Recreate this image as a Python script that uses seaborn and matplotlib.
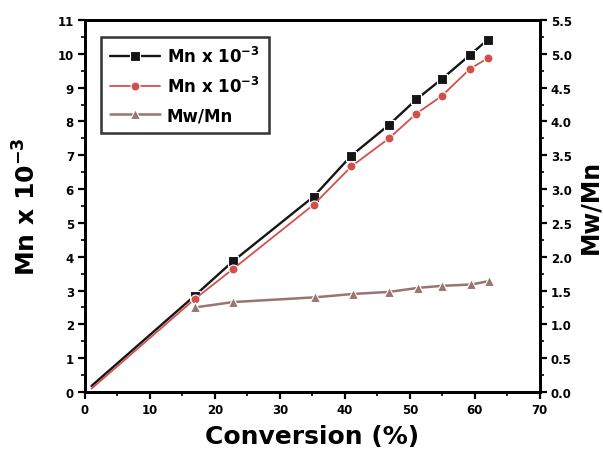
import matplotlib
matplotlib.use("Agg")
import matplotlib.pyplot as plt
import seaborn as sns
import pandas as pd
from matplotlib.ticker import MultipleLocator, FormatStrFormatter

sns.set_theme(style="white")
plt.rcParams['font.family'] = ['DejaVu Sans']
plt.rcParams['mathtext.fontset'] = 'dejavusans'
plt.rcParams['mathtext.default'] = 'bf'
plt.rcParams['axes.unicode_minus'] = False
plt.rcParams['text.color'] = 'black'
plt.rcParams['axes.labelcolor'] = 'black'
plt.rcParams['xtick.color'] = 'black'
plt.rcParams['ytick.color'] = 'black'

# Data
conv_mn = [1.0, 16.9, 22.8, 35.2, 41.0, 46.8, 51.0, 54.9, 59.3, 62.0]
mn_black = [0.18, 2.85, 3.87, 5.78, 6.99, 7.90, 8.65, 9.25, 9.97, 10.42]
mn_red = [0.10, 2.75, 3.64, 5.54, 6.67, 7.50, 8.23, 8.75, 9.56, 9.87]
conv_pdi = [16.9, 22.8, 35.4, 41.3, 46.8, 51.3, 55.0, 59.5, 62.2]
pdi = [1.25, 1.33, 1.40, 1.45, 1.48, 1.54, 1.57, 1.59, 1.64]

c_black = '#151515'
c_red = '#d2504c'
c_brown = '#9a7470'

fig = plt.figure(figsize=(6.03, 4.52), dpi=100)
ax = fig.add_axes([0.141, 0.1305, 0.754, 0.823])
ax2 = ax.twinx()

df1 = pd.DataFrame({'x': conv_mn, 'y': mn_black})
df2 = pd.DataFrame({'x': conv_mn, 'y': mn_red})
df3 = pd.DataFrame({'x': conv_pdi, 'y': pdi})

sns.lineplot(data=df1, x='x', y='y', ax=ax, color=c_black, marker='s', markersize=6.5,
             markeredgecolor='white', markeredgewidth=0.8, markerfacecolor=c_black,
             markevery=list(range(1, len(conv_mn))),
             linewidth=1.7, label='Mn x 10$^{-3}$', legend=False)
sns.lineplot(data=df2, x='x', y='y', ax=ax, color=c_red, marker='o', markersize=6.5,
             markeredgecolor='white', markeredgewidth=0.8, markerfacecolor=c_red,
             markevery=list(range(1, len(conv_mn))),
             linewidth=1.3, label='Mn x 10$^{-3}$', legend=False)
sns.lineplot(data=df3, x='x', y='y', ax=ax2, color=c_brown, marker='^', markersize=7.5,
             markeredgecolor='white', markeredgewidth=0.8, markerfacecolor=c_brown,
             linewidth=1.8, label='Mw/Mn', legend=False)

ax.set_xlim(0, 70)
ax.set_ylim(0, 11)
ax2.set_ylim(0, 5.5)

ax.xaxis.set_major_locator(MultipleLocator(10))
ax.xaxis.set_minor_locator(MultipleLocator(5))
ax.yaxis.set_major_locator(MultipleLocator(1))
ax.yaxis.set_minor_locator(MultipleLocator(0.5))
ax2.yaxis.set_major_locator(MultipleLocator(0.5))
ax2.yaxis.set_minor_locator(MultipleLocator(0.25))
ax2.yaxis.set_major_formatter(FormatStrFormatter('%.1f'))

for a in (ax, ax2):
    for s in a.spines.values():
        s.set_color('black')
        s.set_linewidth(2)
    a.tick_params(which='major', direction='out', length=5, width=1.6, color='black',
                  labelsize=8.5, pad=3, labelcolor='black')
    a.tick_params(which='minor', direction='out', length=3, width=1.2, color='black')
    for lab in a.get_xticklabels() + a.get_yticklabels():
        lab.set_fontweight('bold')
ax.tick_params(axis='x', which='both', bottom=True)
ax.tick_params(axis='y', which='both', left=True)
ax2.tick_params(axis='y', which='both', right=True)

ax.set_xlabel('Conversion (%)', fontsize=18, fontweight='bold', labelpad=6)
ax.set_ylabel('Mn x 10$^{-3}$', fontsize=18, fontweight='bold', labelpad=12)
ax2.set_ylabel('Mw/Mn', fontsize=17, fontweight='bold', labelpad=5)

h1, l1 = ax.get_legend_handles_labels()
h2, l2 = ax2.get_legend_handles_labels()
leg = ax.legend(h1 + h2, l1 + l2, loc='upper left', bbox_to_anchor=(0.035, 0.955),
                frameon=True, fancybox=False, edgecolor='black', numpoints=1,
                prop={'weight': 'bold', 'size': 12}, handlelength=3.0,
                handletextpad=0.4, borderpad=0.55, labelspacing=0.6,
                borderaxespad=0)
leg.get_frame().set_linewidth(1.8)
for h in leg.legend_handles:
    h.set_markevery([1])

fig.savefig('out.png', dpi=100)
